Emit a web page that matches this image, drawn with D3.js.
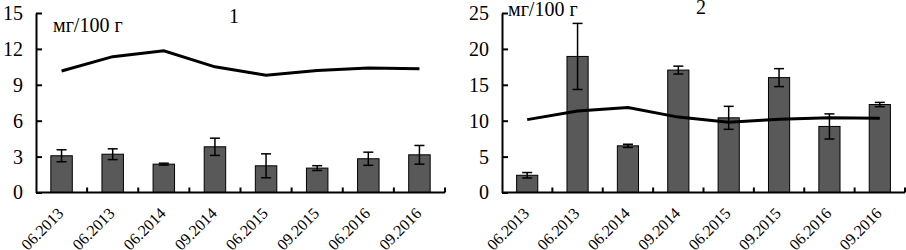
<!DOCTYPE html>
<html>
<head>
<meta charset="utf-8">
<script src="https://cdn.jsdelivr.net/npm/d3@7"></script>
<style>
    body { margin: 0; background: #fff; }
    svg text { font-family: "Liberation Serif", "Times New Roman", serif; fill: #000; }
</style>
</head>
<body>
<svg id="chart" width="906" height="250"></svg>
<script>
/* two panels: bars with error bars plus a reference line */
const categories = ["06.2013", "06.2013", "06.2014", "09.2014", "06.2015", "09.2015", "06.2016", "09.2016"];
const lineValues = [10.15, 11.35, 11.85, 10.5, 9.8, 10.2, 10.4, 10.35];

const bars1 = [3.07, 3.2, 2.37, 3.82, 2.23, 2.04, 2.82, 3.15];
const errs1 = [0.5, 0.45, 0.08, 0.72, 1.0, 0.2, 0.55, 0.78];
const ticks1 = [0, 3, 6, 9, 12, 15];

const bars2 = [2.4, 18.95, 6.5, 17.05, 10.4, 16.0, 9.2, 12.25];
const errs2 = [0.38, 4.6, 0.22, 0.55, 1.6, 1.25, 1.75, 0.3];
const ticks2 = [0, 5, 10, 15, 20, 25];

const svg = d3.select("svg#chart");
const font = "Liberation Serif";
const plotTop = 13;
const plotBottom = 192.5;
const barColor = "#595959";

const panels = [
    { left: 36, right: 445, bars: bars1, errs: errs1, ticks: ticks1, max: 15,
      unitX: 53, unitY: 32, label: "1", labelX: 234, labelY: 23 },
    { left: 502, right: 905, bars: bars2, errs: errs2, ticks: ticks2, max: 25,
      unitX: 508, unitY: 16, label: "2", labelX: 701, labelY: 14 }
];

panels.forEach((p) => {
    const g = svg.append("g");
    const x = d3.scaleBand().domain(d3.range(categories.length)).range([p.left, p.right]);
    const y = d3.scaleLinear().domain([0, p.max]).range([plotBottom, plotTop]);
    const barW = x.bandwidth() * 0.42;
    const cx = (i) => x(i) + x.bandwidth() / 2;

    // bars
    g.selectAll("rect.bar")
        .data(p.bars)
        .join("rect")
        .attr("class", "bar")
        .attr("x", (d, i) => cx(i) - barW / 2)
        .attr("y", (d) => y(d))
        .attr("width", barW)
        .attr("height", (d) => y(0) - y(d))
        .attr("fill", barColor)
        .attr("stroke", "#000")
        .attr("stroke-width", 1);

    // error bars
    const capW = 5;
    p.bars.forEach((d, i) => {
        const e = p.errs[i];
        const c = cx(i);
        g.append("line")
            .attr("x1", c).attr("x2", c)
            .attr("y1", y(d + e)).attr("y2", y(d - e))
            .attr("stroke", "#000").attr("stroke-width", 1.5);
        [d + e, d - e].forEach((v) => {
            g.append("line")
                .attr("x1", c - capW).attr("x2", c + capW)
                .attr("y1", y(v)).attr("y2", y(v))
                .attr("stroke", "#000").attr("stroke-width", 1.5);
        });
    });

    // line
    const line = d3.line().x((d, i) => cx(i)).y((d) => y(d));
    g.append("path")
        .datum(lineValues)
        .attr("d", line)
        .attr("fill", "none")
        .attr("stroke", "#000")
        .attr("stroke-width", 3);

    // y axis
    const yAxis = g.append("g")
        .attr("transform", `translate(${p.left},0)`)
        .call(d3.axisLeft(y).tickValues(p.ticks).tickSizeInner(-6).tickSizeOuter(0).tickPadding(13));
    yAxis.attr("font-family", font).attr("font-size", 20);
    yAxis.select(".domain").attr("stroke-width", 2);
    yAxis.selectAll(".tick line").attr("stroke-width", 2);

    // x axis with ticks at category boundaries
    const xAxis = g.append("g").attr("transform", `translate(0,${plotBottom})`);
    xAxis.append("line")
        .attr("x1", p.left).attr("x2", p.right)
        .attr("stroke", "#000").attr("stroke-width", 2);
    xAxis.selectAll("line.bound")
        .data(d3.range(1, categories.length + 1))
        .join("line")
        .attr("class", "bound")
        .attr("x1", (i) => (i === categories.length ? p.right : x(i)))
        .attr("x2", (i) => (i === categories.length ? p.right : x(i)))
        .attr("y1", 0).attr("y2", -5)
        .attr("stroke", "#000").attr("stroke-width", 2);
    const labels = xAxis.selectAll("g.cat")
        .data(categories)
        .join("g")
        .attr("class", "cat")
        .attr("transform", (d, i) => `translate(${cx(i) - 1},18)`);
    labels.append("text")
        .attr("transform", "rotate(-45)")
        .attr("text-anchor", "end")
        .attr("dy", "0.35em")
        .attr("font-family", font)
        .attr("font-size", 16)
        .text((d) => d);

    // unit and panel labels
    g.append("text")
        .attr("x", p.unitX).attr("y", p.unitY)
        .attr("font-family", font)
        .attr("font-size", 20)
        .text("мг/100 г");
    g.append("text")
        .attr("x", p.labelX).attr("y", p.labelY)
        .attr("text-anchor", "middle")
        .attr("font-family", font)
        .attr("font-size", 20)
        .text(p.label);
});
</script>
</body>
</html>
